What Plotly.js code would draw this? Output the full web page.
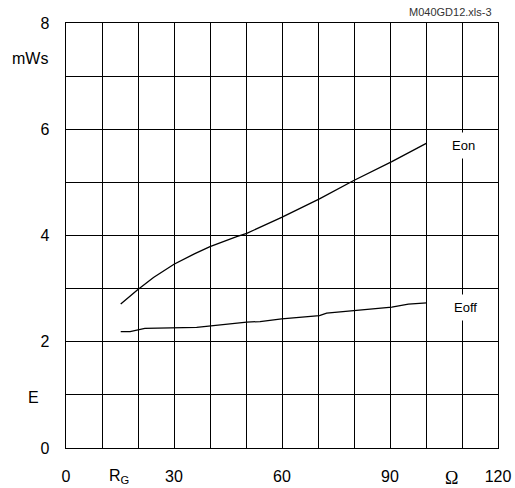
<!DOCTYPE html>
<html>
<head>
<meta charset="utf-8">
<script src="https://cdn.plot.ly/plotly-3.0.1.min.js"></script>
<style>
  html, body { margin: 0; padding: 0; background: #fff; }
  #chart { width: 515px; height: 488px; }
</style>
</head>
<body>
<div id="chart"></div>
<script>
// Switching energy vs. gate resistance
const rgOn  = [15.2, 19.9, 24.3, 30.0, 35.8, 40.0, 47.4, 50.2, 59.9, 65.0, 70.4, 79.8, 90.5, 100.2];
const eOn   = [2.71, 2.98, 3.21, 3.46, 3.66, 3.79, 3.98, 4.04, 4.34, 4.51, 4.69, 5.03, 5.39, 5.74];

const rgOff = [15.2, 17.8, 21.9, 30.0, 36.3, 50.2, 53.9, 59.9, 65.0, 70.4, 72.4, 90.5, 95.1, 100.2];
const eOff  = [2.19, 2.19, 2.25, 2.26, 2.27, 2.37, 2.38, 2.43, 2.46, 2.49, 2.54, 2.65, 2.71, 2.73];

const xTicks = [0, 10, 20, 30, 40, 50, 60, 70, 80, 90, 100, 110, 120];
const xTickText = ['0', '', '', '30', '', '', '60', '', '', '90', '', '', '120'];
const yTicks = [0, 1, 2, 3, 4, 5, 6, 7, 8];
const yTickText = ['0', '', '2', '', '4', '', '6', '', '8'];

const lineStyle = { color: '#000', width: 1.3 };

const traces = [
  { x: rgOn, y: eOn, mode: 'lines', line: lineStyle, name: 'Eon', hoverinfo: 'x+y' },
  { x: rgOff, y: eOff, mode: 'lines', line: lineStyle, name: 'Eoff', hoverinfo: 'x+y' }
];

const font = { family: 'Liberation Sans, Arial, sans-serif', size: 16, color: '#000' };

const layout = {
  width: 515,
  height: 488,
  margin: { l: 66, r: 17, t: 23, b: 40, pad: 0 },
  paper_bgcolor: '#fff',
  plot_bgcolor: '#fff',
  showlegend: false,
  font: font,
  xaxis: {
    range: [0, 120],
    tickvals: xTicks,
    ticktext: xTickText,
    showgrid: true,
    gridcolor: '#000',
    gridwidth: 1,
    zeroline: false,
    showline: true,
    linecolor: '#000',
    linewidth: 1.3,
    mirror: true,
    ticks: '',
    ticklabelstandoff: 13,
    tickfont: font
  },
  yaxis: {
    range: [0, 8],
    tickvals: yTicks,
    ticktext: yTickText,
    showgrid: true,
    gridcolor: '#000',
    gridwidth: 1,
    zeroline: false,
    showline: true,
    linecolor: '#000',
    linewidth: 1.3,
    mirror: true,
    ticks: '',
    ticklabelstandoff: 12,
    tickfont: font
  },
  annotations: [
    { xref: 'paper', yref: 'paper', x: (494 - 66) / 432, y: 1, yshift: 11,
      xanchor: 'right', yanchor: 'middle', showarrow: false,
      text: 'M040GD12.xls-3', font: { family: 'Liberation Sans, Arial, sans-serif', size: 11, color: '#333' } },
    { xref: 'paper', yref: 'paper', x: 0, xshift: -16, y: (448 - 58) / 425,
      xanchor: 'right', yanchor: 'middle', showarrow: false,
      text: 'mWs', font: font },
    { xref: 'paper', yref: 'paper', x: 0, xshift: -25, y: (448 - 397) / 425,
      xanchor: 'right', yanchor: 'middle', showarrow: false,
      text: 'E', font: font },
    { xref: 'x', yref: 'paper', x: 14.8, y: 0, yshift: -28,
      xanchor: 'center', yanchor: 'middle', showarrow: false,
      text: 'R<sub>G</sub>', font: font },
    { xref: 'x', yref: 'paper', x: 107.2, y: 0, yshift: -30,
      xanchor: 'center', yanchor: 'middle', showarrow: false,
      text: 'Ω', font: { family: 'Liberation Serif, Times New Roman, serif', size: 18, color: '#000' } },
    { xref: 'x', yref: 'y', x: 110.3, y: 5.7,
      xanchor: 'center', yanchor: 'middle', showarrow: false,
      text: 'Eon', bgcolor: '#fff', borderpad: 5,
      font: { family: 'Liberation Sans, Arial, sans-serif', size: 13, color: '#000' } },
    { xref: 'x', yref: 'y', x: 111, y: 2.65,
      xanchor: 'center', yanchor: 'middle', showarrow: false,
      text: 'Eoff', bgcolor: '#fff', borderpad: 5,
      font: { family: 'Liberation Sans, Arial, sans-serif', size: 13, color: '#000' } }
  ]
};

Plotly.newPlot('chart', traces, layout, { staticPlot: true, displayModeBar: false });
</script>
</body>
</html>
